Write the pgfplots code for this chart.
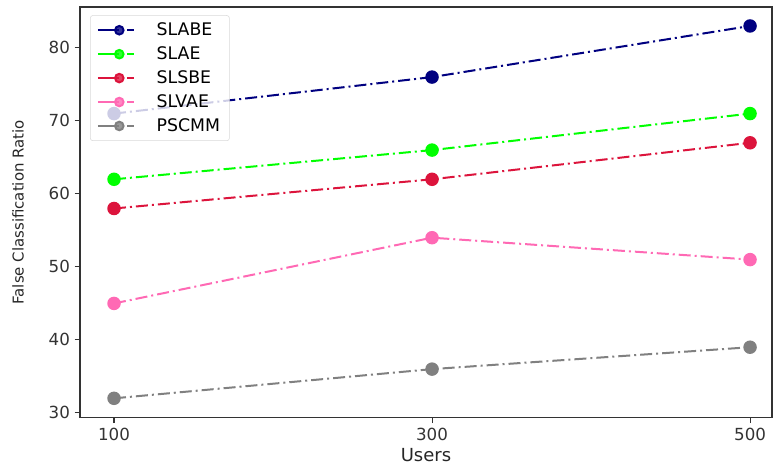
\documentclass[border=0pt]{standalone}
\usepackage{pgfplots}
\pgfplotsset{compat=1.18}
\usepackage{fontspec}
\setmainfont{DejaVu Sans}
\definecolor{mpnavy}{HTML}{000080}
\definecolor{mplime}{HTML}{00FF00}
\definecolor{mpcrimson}{HTML}{DC143C}
\definecolor{mphotpink}{HTML}{FF69B4}
\definecolor{mpgray}{HTML}{808080}
\begin{document}
\begin{tikzpicture}
\begin{axis}[
  scale only axis,
  width=519pt, height=308pt,
  xmin=78.6, xmax=513.8,
  ymin=29.35, ymax=85.6,
  xtick={100,300,500},
  ytick={30,40,50,60,70,80},
  tick align=outside,
  tick pos=left,
  major tick length=4pt,
  tick style={black!80, line width=0.8pt},
  axis line style={black!80, line width=1pt},
  tick label style={font=\fontsize{12.5}{14}\selectfont, text=black!80},
  /pgf/number format/assume math mode=true,
  xlabel={Users},
  ylabel={False Classification Ratio},
  xlabel style={font=\fontsize{13.5}{15}\selectfont, text=black!85, at={(axis description cs:0.5,-0.09)}, anchor=center},
  ylabel style={font=\fontsize{11.2}{13}\selectfont, text=black!85, at={(axis description cs:-0.0896,0.5)}, anchor=center},
  every axis plot/.append style={line width=1.5pt, dash pattern=on 9pt off 3pt on 1.5pt off 3pt, mark=*, mark size=4.3pt, mark options={solid, draw=none}},
  legend style={at={(0.0145,0.98)}, anchor=north west, font=\fontsize{13}{15}\selectfont,
    draw=black!15, fill=white, fill opacity=0.8, text opacity=1, rounded corners=2pt,
    row sep=2.8pt, inner xsep=5pt, inner ysep=3.5pt},
  legend cell align=left,
  legend image code/.code={
    \path[draw=none, fill=none] (0pt,-2pt) rectangle (42pt,2pt);
    \draw[#1, solid] (0pt,0pt) -- (16pt,0pt);
    \draw[#1, solid] (22pt,0pt) -- (27pt,0pt);
    \draw[#1, solid, mark size=3.2pt] plot coordinates {(16pt,0pt)};
  },
]
\addplot[color=mpnavy] coordinates {(100,71) (300,76) (500,83)};
\addlegendentry{SLABE}
\addplot[color=mplime] coordinates {(100,62) (300,66) (500,71)};
\addlegendentry{SLAE}
\addplot[color=mpcrimson] coordinates {(100,58) (300,62) (500,67)};
\addlegendentry{SLSBE}
\addplot[color=mphotpink] coordinates {(100,45) (300,54) (500,51)};
\addlegendentry{SLVAE}
\addplot[color=mpgray] coordinates {(100,32) (300,36) (500,39)};
\addlegendentry{PSCMM}
\end{axis}
\pgfresetboundingbox
\path (current axis.south west) ++(-60pt,-37.5pt) (current axis.north east) ++(1.5pt,5.25pt);
\end{tikzpicture}
\end{document}
